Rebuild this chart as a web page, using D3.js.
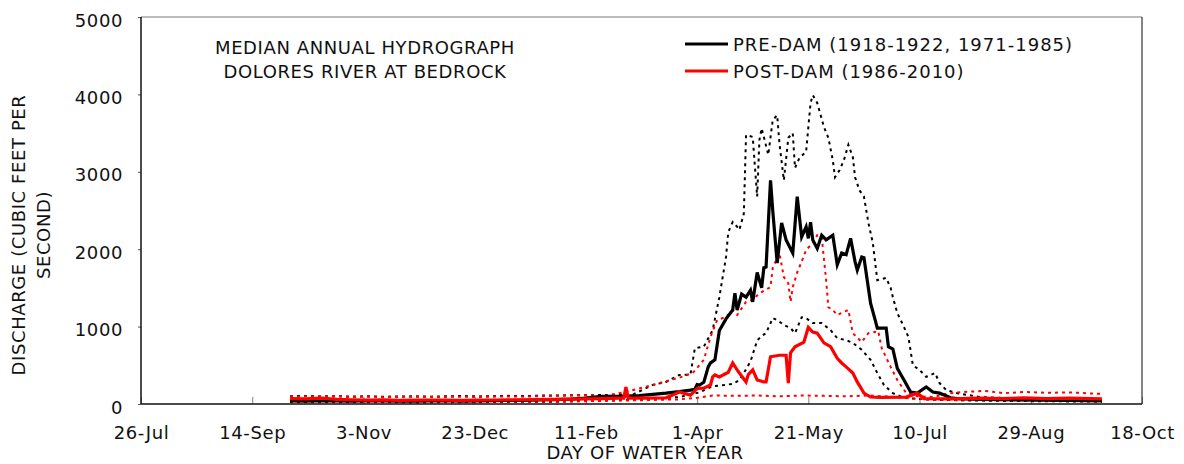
<!DOCTYPE html>
<html><head><meta charset="utf-8">
<script src="https://cdn.jsdelivr.net/npm/d3@7"></script>
<style>body{margin:0;background:#fff}svg text{font-family:"DejaVu Sans",Verdana,sans-serif;font-size:18px;letter-spacing:0.6px;fill:#111}</style>
</head><body>
<script>
// Day of water year (0 = 1 Oct) and discharge (cfs)
const preMedian = [[0,40],[7,36],[14,44],[21,40],[28,38],[35,42],[42,40],[49,36],[56,38],[63,40],[70,42],[77,38],[84,40],[91,42],[98,45],[105,48],[112,52],[119,56],[126,62],[133,75],[140,100],[148,100],[157,110],[163,125],[169,140],[175,160],[180,180],[182,190],[183,250],[184,245],[186,280],[188,480],[189,530],[191,570],[193,950],[196,1100],[199,1215],[200,1430],[201,1215],[203,1420],[205,1380],[207,1470],[208,1320],[210,1700],[212,1500],[213,1760],[214,1770],[216,2890],[217,2500],[219,1820],[221,2340],[223,2120],[226,1950],[228,2680],[230,2160],[232,2290],[233,2140],[234,2350],[235,2120],[237,2010],[239,2180],[241,2120],[244,2180],[246,1800],[248,1950],[250,1930],[252,2140],[254,1840],[255,1730],[257,1900],[258,1890],[261,1300],[263,1090],[264,980],[268,980],[269,740],[271,710],[273,460],[276,310],[279,155],[282,140],[286,220],[289,155],[292,140],[297,80],[300,70],[310,60],[320,55],[335,50],[350,45],[365,40]];
const postMedian = [[0,70],[7,65],[14,75],[21,60],[28,55],[35,50],[42,52],[49,48],[56,50],[63,52],[70,50],[77,48],[84,50],[91,52],[98,55],[105,55],[112,58],[119,60],[126,62],[133,65],[140,70],[148,75],[150,75],[151,220],[152,75],[160,75],[169,80],[172,115],[175,155],[180,115],[183,200],[186,205],[189,245],[190,350],[191,375],[193,350],[197,410],[199,530],[201,440],[202,400],[205,285],[206,380],[208,440],[210,310],[213,285],[214,285],[216,610],[220,630],[223,630],[224,270],[225,660],[227,740],[231,800],[233,990],[235,930],[237,915],[240,790],[243,740],[246,590],[248,530],[250,480],[253,400],[255,285],[258,140],[261,90],[265,85],[277,90],[282,140],[285,70],[297,65],[310,75],[320,70],[330,80],[340,70],[350,75],[365,65]];
const preUpper = [[0,100],[7,104],[14,98],[21,102],[28,96],[35,100],[42,94],[49,97],[56,99],[63,95],[70,100],[77,103],[84,98],[91,101],[98,105],[105,102],[112,108],[119,110],[126,112],[133,114],[140,115],[147,118],[154,120],[159,190],[163,245],[169,285],[175,375],[180,380],[182,720],[186,740],[190,955],[193,1380],[196,1900],[197,2220],[199,2350],[201,2290],[202,2250],[204,2460],[205,3475],[208,3450],[209,3060],[210,2680],[211,3410],[212,3560],[213,3450],[215,3220],[217,3670],[219,3730],[220,3370],[222,2890],[224,3440],[226,3500],[227,3050],[229,3180],[232,3260],[234,3890],[235,3990],[237,3890],[240,3580],[242,3440],[244,3150],[245,2930],[247,3020],[249,3150],[251,3350],[253,3190],[254,2930],[256,2760],[258,2680],[260,2340],[262,2080],[264,1600],[268,1630],[270,1500],[271,1380],[273,1175],[276,995],[278,865],[280,500],[283,440],[286,350],[290,400],[292,270],[295,180],[300,140],[310,90],[325,75],[340,70],[365,60]];
const preLower = [[0,22],[30,24],[60,20],[90,25],[120,30],[139,45],[157,55],[175,90],[184,150],[190,230],[195,245],[199,260],[202,310],[204,400],[207,550],[210,820],[212,880],[214,915],[217,1110],[219,1085],[222,1020],[225,980],[227,915],[230,1120],[232,1110],[235,1045],[239,1045],[243,955],[246,850],[250,825],[253,790],[257,700],[261,570],[264,400],[267,245],[271,140],[276,80],[288,55],[320,40],[365,30]];
const postUpper = [[0,95],[7,100],[14,92],[21,98],[28,90],[35,95],[42,88],[49,92],[56,95],[63,90],[70,92],[77,95],[84,90],[91,95],[98,98],[105,95],[112,100],[119,105],[126,110],[133,115],[140,100],[150,150],[157,200],[163,245],[171,310],[176,350],[181,400],[186,570],[189,865],[192,1085],[196,1125],[199,1215],[201,1150],[205,1320],[208,1345],[211,1430],[216,1510],[217,1760],[220,1950],[222,1640],[224,1560],[225,1320],[226,1510],[228,1700],[230,1840],[232,1990],[235,2080],[237,2180],[239,2160],[241,1600],[242,1250],[244,1215],[246,1150],[249,1190],[251,1215],[253,915],[257,800],[260,915],[263,930],[264,1000],[266,720],[270,480],[273,310],[277,140],[282,100],[289,90],[295,130],[300,150],[312,170],[321,140],[330,155],[340,145],[350,150],[365,130]];
const postLower = [[0,30],[30,28],[60,25],[90,28],[120,30],[140,40],[160,50],[175,60],[183,80],[190,110],[200,105],[210,110],[220,100],[230,110],[240,105],[250,100],[260,110],[270,95],[280,70],[300,50],[330,45],[365,40]];

const tickLabels = ["26-Jul","14-Sep","3-Nov","23-Dec","11-Feb","1-Apr","21-May","10-Jul","29-Aug","18-Oct"];
const tickDates = ["1999-07-26","1999-09-14","1999-11-03","1999-12-23","2000-02-11","2000-04-01","2000-05-21","2000-07-10","2000-08-29","2000-10-18"];
const yTicks = [0,1000,2000,3000,4000,5000];
const legendLabels = ["PRE-DAM (1918-1922, 1971-1985)","POST-DAM (1986-2010)"];
const titleLines = ["MEDIAN ANNUAL HYDROGRAPH","DOLORES RIVER AT BEDROCK"];

const W=1184,H=464, L=141, R=1142, T=17, B=404;
const parse = d3.utcParse("%Y-%m-%d");
const start = parse("1999-10-01");
const toDate = d => d3.utcDay.offset(start, d);

const svg = d3.select("body").append("svg").attr("width",W).attr("height",H);
const x = d3.scaleUtc().domain([parse(tickDates[0]), parse(tickDates[tickDates.length-1])]).range([L,R]);
const y = d3.scaleLinear().domain([0,5000]).range([B,T]);

// axes
const xa = svg.append("g").attr("transform",`translate(0,${B})`)
  .call(d3.axisBottom(x).tickValues(tickDates.map(parse)).tickFormat((d,i)=>tickLabels[i]).tickSizeInner(-7).tickSizeOuter(0));
xa.select(".domain").remove();
xa.selectAll(".tick line").attr("stroke","#808080");
xa.selectAll(".tick text").attr("y",35).attr("dy",0).style("font-size","18px").attr("fill","#111");

const ya = svg.append("g").attr("transform",`translate(${L},0)`)
  .call(d3.axisLeft(y).tickValues(yTicks).tickFormat(d3.format("d")).tickSizeInner(3).tickSizeOuter(0).tickPadding(15));
ya.select(".domain").remove();
ya.selectAll(".tick line").attr("stroke","#555");
ya.selectAll(".tick text").attr("dy","0.5em").attr("fill","#111");

// frame
svg.append("line").attr("x1",L).attr("x2",R).attr("y1",T).attr("y2",T).attr("stroke","#7a7a7a").attr("stroke-width",1.2);
svg.append("line").attr("x1",R).attr("x2",R).attr("y1",T).attr("y2",B).attr("stroke","#333").attr("stroke-width",1.2);

const line = d3.line().x(d=>x(toDate(d[0]))).y(d=>y(d[1]));
const series = [
  {data:preUpper, color:"#000", w:2, dash:"3,4"},
  {data:preLower, color:"#000", w:2, dash:"3,4"},
  {data:postUpper, color:"#f00", w:2, dash:"3,4"},
  {data:postLower, color:"#f00", w:2, dash:"3,4"},
  {data:preMedian, color:"#000", w:3.2, dash:null},
  {data:postMedian, color:"#f00", w:3.2, dash:null}
];
series.forEach(s=>{
  svg.append("path").attr("d",line(s.data)).attr("fill","none").attr("stroke",s.color)
    .attr("stroke-width",s.w).attr("stroke-dasharray",s.dash).attr("stroke-linejoin","miter");
});

svg.append("line").attr("x1",L).attr("x2",L).attr("y1",T).attr("y2",B).attr("stroke","#111").attr("stroke-width",1.5);
svg.append("line").attr("x1",L).attr("x2",R).attr("y1",B).attr("y2",B).attr("stroke","#111").attr("stroke-width",1.5);

// title
svg.selectAll(".ttl").data(titleLines).join("text").attr("x",365).attr("y",(d,i)=>54+i*24)
  .attr("text-anchor","middle").text(d=>d);

// legend
const lg = [{c:"#000"},{c:"#f00"}];
lg.forEach((d,i)=>{
  const yy = 44 + i*27;
  svg.append("line").attr("x1",685).attr("x2",728).attr("y1",yy).attr("y2",yy).attr("stroke",d.c).attr("stroke-width",3.2);
  svg.append("text").attr("x",733).attr("y",yy+6.5).style("letter-spacing","1px").text(legendLabels[i]);
});

// axis titles
svg.append("text").attr("x",645).attr("y",459).attr("text-anchor","middle").text("DAY OF WATER YEAR");
svg.append("text").attr("transform","translate(25,235) rotate(-90)").attr("text-anchor","middle").text("DISCHARGE  (CUBIC FEET PER");
svg.append("text").attr("transform","translate(50,235) rotate(-90)").attr("text-anchor","middle").text("SECOND)");
</script>
</body></html>
